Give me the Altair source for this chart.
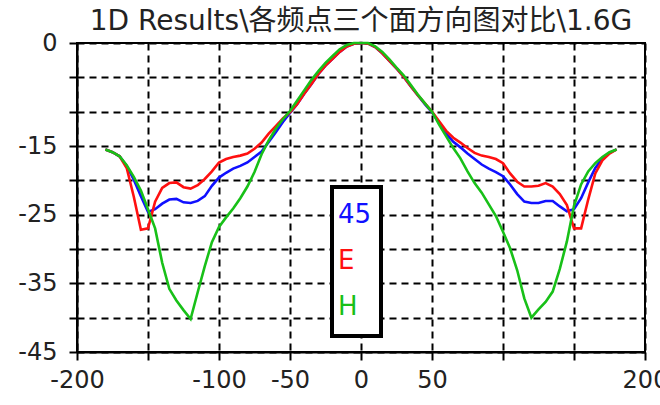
import altair as alt
import pandas as pd

angles = list(range(-180, 181, 5))

h_vals = [-15.5, -15.9, -16.5, -17.8, -19.5, -21.5, -24.2, -27.0, -32.0, -35.8, -37.5, -38.9, -40.2,
          -36.3, -32.5, -29.0, -26.8, -25.4, -24.1, -22.6, -20.9, -18.8, -16.2, -14.2, -12.5, -11.1,
          -9.9, -8.4, -6.9, -5.4, -4.1, -2.9, -1.9, -0.9, -0.3, 0.0, 0.0, 0.0, -0.5, -1.3, -2.4, -3.6,
          -4.7, -6.1, -7.5, -8.8, -10.0, -11.9, -13.6, -15.3, -16.8, -18.7, -20.4, -21.8, -23.5, -25.2,
          -27.5, -29.9, -33.1, -37.2, -40.0, -38.8, -37.7, -36.2, -32.9, -28.9, -23.7, -20.6, -18.7,
          -17.5, -16.6, -15.9, -15.5]

e_vals = [-15.5, -15.9, -16.5, -18.2, -22.4, -27.2, -27.0, -23.1, -21.1, -20.4, -20.3, -21.0, -21.2,
          -20.7, -19.8, -18.7, -17.4, -16.9, -16.6, -16.4, -16.1, -15.4, -14.5, -13.2, -12.1, -11.0,
          -10.1, -8.9, -7.4, -6.0, -4.5, -3.3, -2.3, -1.3, -0.5, -0.1, 0.0, -0.1, -0.6, -1.5, -2.6,
          -3.7, -4.9, -6.3, -7.6, -8.8, -10.0, -11.4, -12.8, -13.8, -14.5, -15.3, -16.0, -16.4, -16.6,
          -16.9, -17.5, -19.0, -20.2, -20.9, -20.9, -20.8, -20.4, -20.9, -22.0, -23.6, -27.0, -27.0,
          -22.8, -19.0, -17.1, -16.1, -15.5]

d45_vals = [-15.5, -15.9, -16.5, -17.9, -19.9, -22.3, -24.6, -24.2, -23.4, -22.8, -22.7, -23.2, -23.3,
            -23.0, -22.3, -20.8, -19.6, -18.9, -18.3, -17.9, -17.4, -16.6, -15.8, -14.4, -13.0, -11.5,
            -10.2, -8.9, -7.4, -6.0, -4.5, -3.3, -2.3, -1.3, -0.5, -0.1, 0.0, -0.1, -0.6, -1.5, -2.6,
            -3.7, -4.9, -6.3, -7.6, -8.9, -10.1, -11.6, -13.2, -14.4, -15.2, -16.1, -16.9, -17.7, -18.3,
            -18.8, -19.4, -20.6, -22.0, -23.1, -23.3, -23.3, -23.0, -23.0, -23.8, -24.5, -24.2, -22.6,
            -20.3, -18.2, -16.8, -16.0, -15.5]

series_names = ["45", "E", "H"]
series_colors = ["#1010ff", "#ff1010", "#18c018"]

x_ticks = [-200, -150, -100, -50, 0, 50, 100, 150, 200]
x_hidden = [-150, 100, 150]
y_ticks = [0, -5, -10, -15, -20, -25, -30, -35, -40, -45]
y_shown = [0, -15, -25, -35, -45]

title_text = "1D Results\\各频点三个面方向图对比\\1.6G"

rows = []
for name, vals in zip(series_names, [d45_vals, e_vals, h_vals]):
    for a, v in zip(angles, vals):
        rows.append({"angle": a, "value": v, "series": name})
df = pd.DataFrame(rows)

FONT = "DejaVu Sans, Noto Sans CJK SC"

axis_style = dict(
    domainColor="black", domainWidth=2, tickColor="black", tickWidth=2,
    gridColor="black", gridWidth=2, gridDash=[7, 5], gridOpacity=1,
    labelFont=FONT, labelFontSize=24, labelColor="#222222",
)

color_scale = alt.Scale(domain=series_names, range=series_colors)
x_scale = alt.Scale(domain=[-200, 200], nice=False, zero=False)
y_scale = alt.Scale(domain=[-45, 0], nice=False, zero=False)

x_axis = alt.Axis(
    values=x_ticks, title=None, grid=True,
    labelExpr="indexof([" + ",".join(str(v) for v in x_hidden) + "], datum.value) >= 0 ? '' : '' + datum.value",
    labelFlush=False, labelOverlap=False, labelPadding=8, tickSize=8, **axis_style,
)
y_axis = alt.Axis(
    values=y_ticks, title=None, grid=True,
    labelExpr="indexof([" + ",".join(str(v) for v in y_shown) + "], datum.value) >= 0 ? '' + datum.value : ''",
    labelOverlap=False, labelPadding=12, tickSize=8, labelBaseline="middle", **axis_style,
)

lines = alt.Chart(df).mark_line(strokeWidth=2.6).encode(
    x=alt.X("angle:Q", scale=x_scale, axis=x_axis),
    y=alt.Y("value:Q", scale=y_scale, axis=y_axis),
    color=alt.Color("series:N", scale=color_scale, legend=None),
)

box = alt.Chart(pd.DataFrame({"box": [1]})).mark_rect(
    fill="white", stroke="black", strokeWidth=4
).encode(
    x=alt.value(255), x2=alt.value(304), y=alt.value(144), y2=alt.value(293)
)

legend_df = pd.DataFrame({"series": series_names})
legend_text = alt.Chart(legend_df).transform_window(
    idx="row_number()"
).transform_calculate(
    ly="-25.05 - 6.7 * (datum.idx - 1)"
).mark_text(
    align="left", baseline="middle", fontSize=26, font=FONT
).encode(
    x=alt.value(261),
    y=alt.Y("ly:Q", scale=y_scale, axis=y_axis),
    text="series:N",
    color=alt.Color("series:N", scale=color_scale, legend=None),
)

chart = alt.layer(lines, box, legend_text).properties(
    width=568, height=309,
    title=alt.TitleParams(
        title_text, font=FONT, fontSize=28, fontWeight="normal", color="#222222",
        anchor="middle", offset=-5,
    ),
    autosize=alt.AutoSizeParams(type="none"),
    padding={"left": 77, "top": 43, "right": 15, "bottom": 53},
    background="white",
).configure_view(
    stroke="black", strokeWidth=2
)

chart.save("out.html", embed_options={"renderer": "svg", "actions": False})
